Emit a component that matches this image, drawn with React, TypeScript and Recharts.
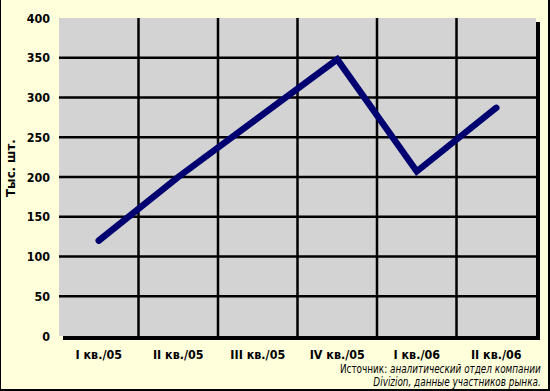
import { LineChart, Line, XAxis, YAxis, CartesianGrid, Label, usePlotArea } from "recharts"

const quarters = ["I кв./05", "II кв./05", "III кв./05", "IV кв./05", "I кв./06", "II кв./06"]
const sales = [120, 200, 274, 348, 207, 287]
const yTicks = [0, 50, 100, 150, 200, 250, 300, 350, 400]
const gridValues = [50, 100, 150, 200, 250, 300, 350]

const data = quarters.map((name, i) => ({ name, value: sales[i] }))

const font = "'Liberation Sans Narrow', 'DejaVu Sans', sans-serif"
const textStyle = { fill: "#000", fontSize: 13, fontWeight: "bold", fontFamily: font }

// narrow bold tick text, squeezed horizontally like the original
function NarrowTick(props: any) {
  const { x, y, payload, textAnchor, vertical } = props
  return (
    <g transform={`translate(${x},${y})`}>
      <text
        transform="scale(0.86,1)"
        textAnchor={textAnchor}
        dy={vertical ? "0.36em" : "0.71em"}
        style={textStyle}
      >
        {payload.value}
      </text>
    </g>
  )
}

// dark drop shadow along the right and bottom of the plot
function PlotShadow() {
  const plot = usePlotArea()
  if (!plot) return null
  const s = 4
  return (
    <g>
      <rect x={plot.x + plot.width} y={plot.y + s} width={s} height={plot.height} fill="#000" />
      <rect x={plot.x + s} y={plot.y + plot.height} width={plot.width} height={s} fill="#000" />
    </g>
  )
}

export default function App() {
  return (
    <div style={{ position: "fixed", left: 0, top: 0, width: 550, height: 391, background: "#FFFFDC" }}>
      <LineChart width={550} height={391} data={data} margin={{ top: 18, right: 14, left: 0, bottom: 0 }}>
        <CartesianGrid
          fill="#D3D3D3"
          stroke="#000"
          strokeWidth={2.5}
          horizontalValues={gridValues}
          verticalCoordinatesGenerator={({ offset }: any) =>
            [1, 2, 3, 4, 5].map((i) => offset.left + (offset.width * i) / quarters.length)
          }
        />
        <XAxis
          dataKey="name"
          scale="band"
          axisLine={false}
          tickLine={false}
          tickSize={0}
          tickMargin={14}
          height={55}
          interval={0}
          tick={<NarrowTick />}
        />
        <YAxis
          domain={[0, 400]}
          ticks={yTicks}
          axisLine={false}
          tickLine={false}
          tickSize={0}
          tickMargin={9}
          width={59}
          tick={<NarrowTick vertical />}
        >
          <Label
            content={({ viewBox }: any) => {
              const cx = 11
              const cy = viewBox.y + viewBox.height / 2 - 10
              return (
                <text
                  x={cx}
                  y={cy}
                  transform={`rotate(-90 ${cx} ${cy}) scale(0.9,1)`}
                  textAnchor="middle"
                  dominantBaseline="central"
                  style={textStyle}
                >
                  Тыс. шт.
                </text>
              )
            }}
          />
        </YAxis>
        <PlotShadow />
        <Line
          type="linear"
          dataKey="value"
          stroke="#000070"
          strokeWidth={6.5}
          strokeLinecap="round"
          dot={false}
          activeDot={false}
          isAnimationActive={false}
        />
      </LineChart>
      <div
        style={{
          position: "absolute",
          right: 9,
          top: 363,
          textAlign: "right",
          fontFamily: font,
          fontSize: 11.5,
          lineHeight: "12.5px",
          color: "#000",
          whiteSpace: "nowrap",
          transform: "scaleX(0.77)",
          transformOrigin: "right",
        }}
      >
        Источник: <i>аналитический отдел компании</i>
        <br />
        <i>Divizion, данные участников рынка.</i>
      </div>
      <div
        style={{
          position: "absolute",
          inset: 0,
          borderLeft: "1px solid #000",
          borderRight: "2px solid #000",
          borderBottom: "2px solid #000",
          pointerEvents: "none",
        }}
      />
    </div>
  )
}
